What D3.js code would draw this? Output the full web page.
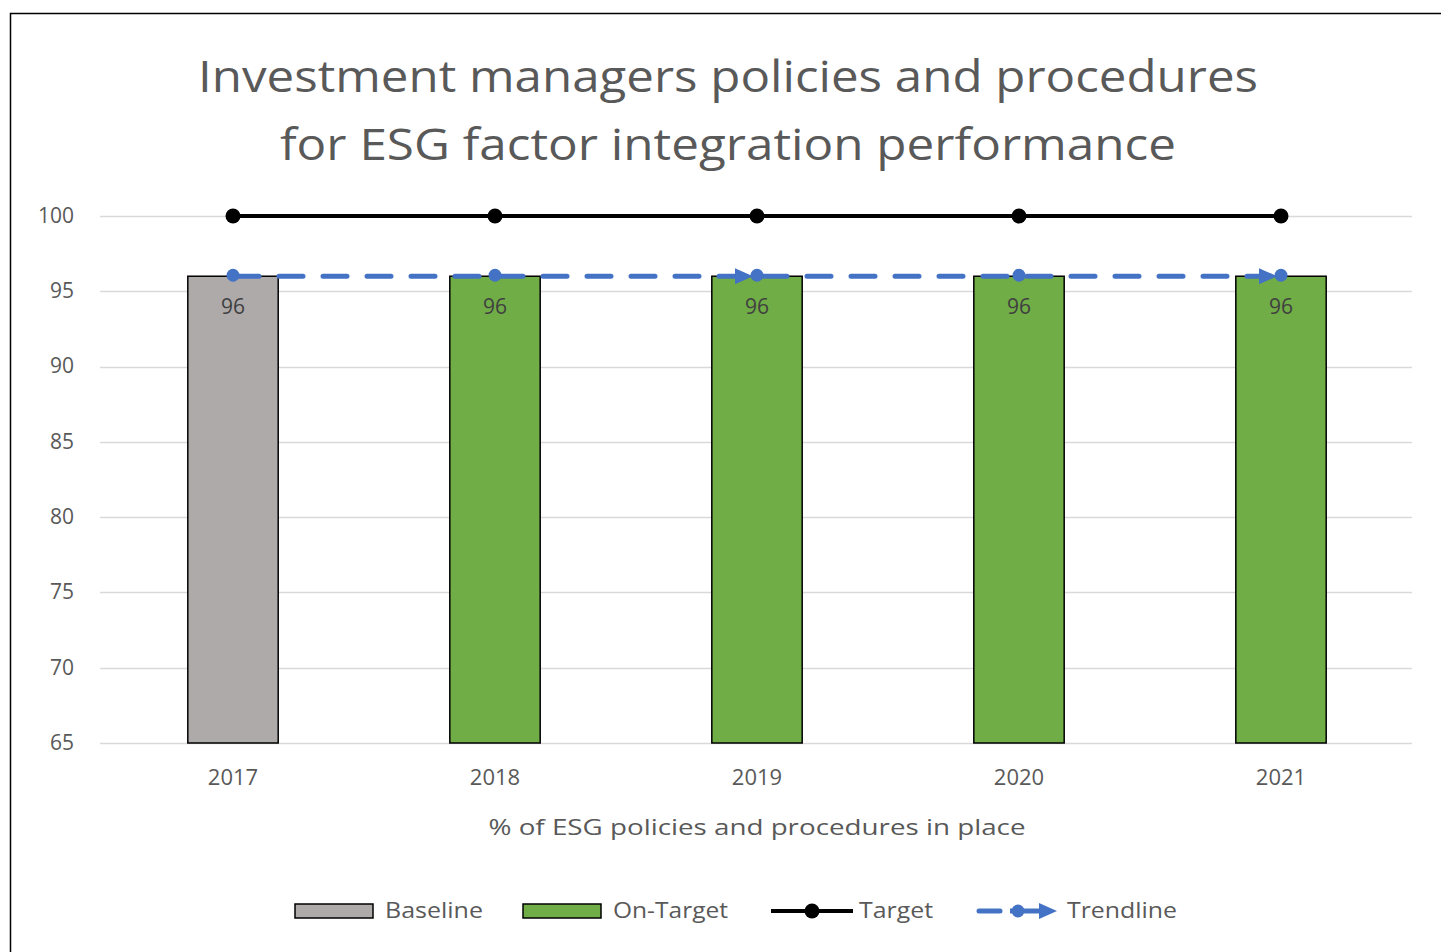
<!DOCTYPE html>
<html>
<head>
<meta charset="utf-8">
<script src="https://cdn.jsdelivr.net/npm/d3@7"></script>
<style>
  html, body { margin: 0; padding: 0; background: #fff; }
  svg { display: block; }
  text { font-family: "Open Sans", "Noto Sans", sans-serif; }
</style>
</head>
<body>
<svg id="chart" width="1441" height="952"></svg>
<script>
// Chart data
const years = ["2017", "2018", "2019", "2020", "2021"];
const actualValues = [96, 96, 96, 96, 96];
const barStatus = ["Baseline", "On-Target", "On-Target", "On-Target", "On-Target"];
const targetValues = [100, 100, 100, 100, 100];
const trendValues = [96, 96, 96, 96, 96];
const trendArrows = [false, false, true, false, true];
const yTicks = [65, 70, 75, 80, 85, 90, 95, 100];
const titleLines = ["Investment managers policies and procedures", "for ESG factor integration performance"];
const xAxisTitle = "% of ESG policies and procedures in place";
const legendItems = ["Baseline", "On-Target", "Target", "Trendline"];

const colors = { "Baseline": "#AEAAAA", "On-Target": "#70AD47", target: "#000000", trend: "#4472C4" };

const svg = d3.select("#chart");

// Outer frame (left and top edges)
svg.append("path")
  .attr("d", "M10.5,952 V13.5 H1441")
  .attr("fill", "none").attr("stroke", "#000").attr("stroke-width", 1.5);

const plot = { left: 100, right: 1412, top: 216, bottom: 743 };

const x = d3.scaleBand().domain(years).range([plot.left + 2, plot.right]).paddingInner(0.655).paddingOuter(0.3275);
const y = d3.scaleLinear().domain([65, 100]).range([plot.bottom, plot.top]);
const cx = d => x(d) + x.bandwidth() / 2;

// Title
svg.append("g").selectAll("text").data(titleLines).join("text")
  .attr("x", 728).attr("y", (d, i) => 92 + i * 68)
  .attr("text-anchor", "middle").attr("fill", "#595959")
  .attr("font-size", 44)
  .attr("textLength", (d, i) => i === 0 ? 1060 : 896)
  .attr("lengthAdjust", "spacingAndGlyphs")
  .text(d => d);

// Gridlines
svg.append("g").selectAll("line").data(yTicks).join("line")
  .attr("x1", plot.left).attr("x2", plot.right)
  .attr("y1", d => Math.round(y(d)) + 0.5).attr("y2", d => Math.round(y(d)) + 0.5)
  .attr("stroke", "#D9D9D9").attr("stroke-width", 1.5);

// Y axis labels
const yAxis = d3.axisLeft(y).tickValues(yTicks).tickSize(0).tickPadding(0);
const yg = svg.append("g").attr("transform", `translate(${plot.left - 26},-1)`).call(yAxis);
yg.select(".domain").remove();
yg.selectAll("text").attr("font-size", 21).attr("fill", "#595959")
  .attr("font-family", "'Open Sans', sans-serif").attr("dy", "0.35em");

// X axis labels
const xAxis = d3.axisBottom(x).tickSize(0).tickPadding(0);
const xg = svg.append("g").attr("transform", `translate(0,${plot.bottom + 26})`).call(xAxis);
xg.select(".domain").remove();
xg.selectAll("text").attr("font-size", 22).attr("fill", "#595959")
  .attr("font-family", "'Open Sans', sans-serif").attr("dy", "0.71em");

// X axis title
svg.append("text").attr("x", 757).attr("y", 835)
  .attr("text-anchor", "middle").attr("fill", "#595959").attr("font-size", 21)
  .attr("textLength", 537).attr("lengthAdjust", "spacingAndGlyphs")
  .text(xAxisTitle);

// Bars
svg.append("g").selectAll("rect").data(years).join("rect")
  .attr("x", d => x(d)).attr("width", x.bandwidth())
  .attr("y", (d, i) => y(actualValues[i]))
  .attr("height", (d, i) => y(65) - y(actualValues[i]))
  .attr("fill", (d, i) => colors[barStatus[i]])
  .attr("stroke", "#000").attr("stroke-width", 1.5);

// Bar value labels
svg.append("g").selectAll("text").data(years).join("text")
  .attr("x", d => cx(d)).attr("y", (d, i) => y(actualValues[i]) + 38)
  .attr("text-anchor", "middle").attr("fill", "#404040").attr("font-size", 21)
  .text((d, i) => actualValues[i]);

// Target line with markers
const targetLine = d3.line().x((d, i) => cx(years[i])).y(d => y(d));
svg.append("path").datum(targetValues).attr("d", targetLine)
  .attr("fill", "none").attr("stroke", colors.target).attr("stroke-width", 4);
svg.append("g").selectAll("circle").data(targetValues).join("circle")
  .attr("cx", (d, i) => cx(years[i])).attr("cy", d => y(d)).attr("r", 7.5)
  .attr("fill", colors.target);

// Trendline (dashed) with markers
const trendLine = d3.line().x((d, i) => cx(years[i])).y(d => y(d));
svg.append("path").datum(trendValues).attr("d", trendLine)
  .attr("fill", "none").attr("stroke", colors.trend).attr("stroke-width", 5)
  .attr("stroke-dasharray", "24,20").attr("stroke-dashoffset", -2)
  .attr("stroke-linecap", "round");
svg.append("g").selectAll("circle").data(trendValues).join("circle")
  .attr("cx", (d, i) => cx(years[i])).attr("cy", d => y(d) - 1).attr("r", 6.5)
  .attr("fill", colors.trend);
svg.append("g").selectAll("path").data(trendValues.map((v, i) => ({ v, i })).filter(d => trendArrows[d.i]))
  .join("path")
  .attr("d", d => {
    const tx = cx(years[d.i]) - 4, ty = y(d.v);
    return `M${tx},${ty} L${tx - 18},${ty - 8} L${tx - 18},${ty + 8} Z`;
  })
  .attr("fill", colors.trend);

// Legend
const lg = svg.append("g");
const ly = 911;
// Baseline swatch
lg.append("rect").attr("x", 295).attr("y", ly - 7).attr("width", 78).attr("height", 14)
  .attr("fill", colors["Baseline"]).attr("stroke", "#000").attr("stroke-width", 1.5);
// On-Target swatch
lg.append("rect").attr("x", 523).attr("y", ly - 7).attr("width", 78).attr("height", 14)
  .attr("fill", colors["On-Target"]).attr("stroke", "#000").attr("stroke-width", 1.5);
// Target swatch
lg.append("line").attr("x1", 771).attr("x2", 853).attr("y1", ly).attr("y2", ly)
  .attr("stroke", colors.target).attr("stroke-width", 4);
lg.append("circle").attr("cx", 812).attr("cy", ly).attr("r", 7.5).attr("fill", colors.target);
// Trendline swatch
lg.append("line").attr("x1", 979).attr("x2", 1000).attr("y1", ly).attr("y2", ly)
  .attr("stroke", colors.trend).attr("stroke-width", 5).attr("stroke-linecap", "round");
lg.append("line").attr("x1", 1010).attr("x2", 1040).attr("y1", ly).attr("y2", ly)
  .attr("stroke", colors.trend).attr("stroke-width", 5);
lg.append("circle").attr("cx", 1018).attr("cy", ly).attr("r", 6.5).attr("fill", colors.trend);
lg.append("path").attr("d", `M1057,${ly} L1039,${ly - 8} L1039,${ly + 8} Z`).attr("fill", colors.trend);

const legendText = [
  { t: legendItems[0], x: 385, w: 98 },
  { t: legendItems[1], x: 613, w: 115 },
  { t: legendItems[2], x: 859, w: 74 },
  { t: legendItems[3], x: 1067, w: 110 }
];
lg.selectAll("text.lt").data(legendText).join("text").attr("class", "lt")
  .attr("x", d => d.x).attr("y", ly + 7)
  .attr("fill", "#595959").attr("font-size", 21)
  .attr("textLength", d => d.w).attr("lengthAdjust", "spacingAndGlyphs")
  .text(d => d.t);
</script>
</body>
</html>
